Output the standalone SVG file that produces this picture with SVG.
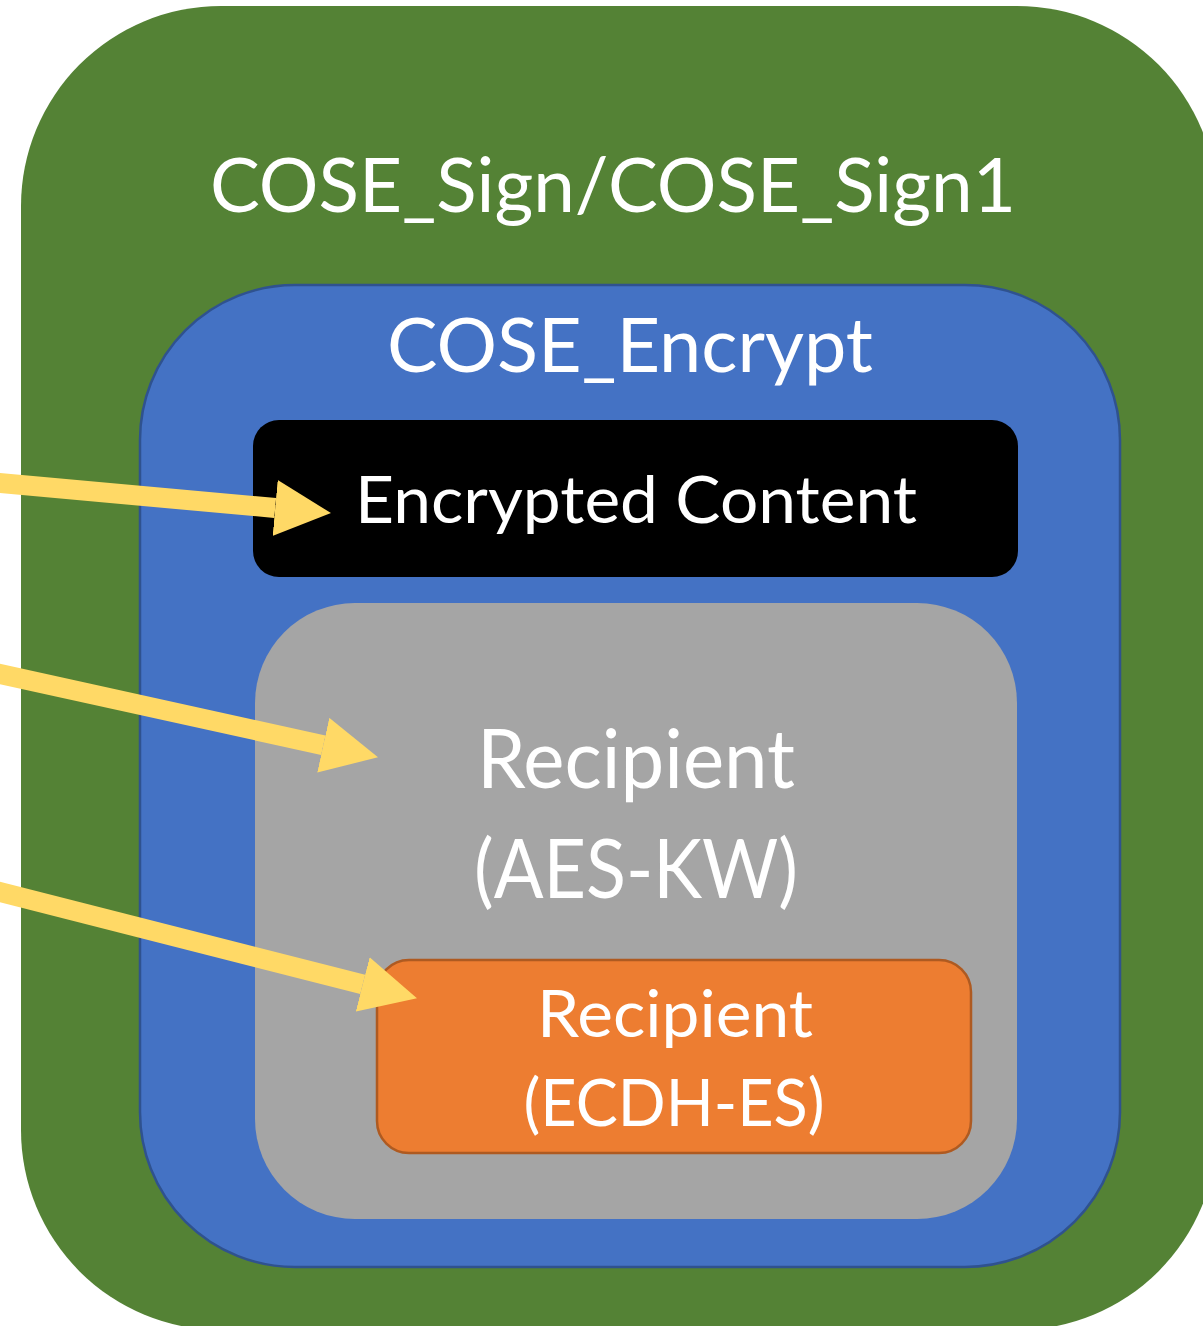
<svg xmlns="http://www.w3.org/2000/svg" width="1203" height="1326" viewBox="0 0 1203 1326">
  <style>
    .lbl { font-family: Lato, "Open Sans", "Liberation Sans", sans-serif; fill: #FFFFFF; text-anchor: middle; }
    .big { font-size: 75px; }
    .mid { font-size: 81px; }
    .sm { font-size: 65px; }
    .arrow { stroke: #FFD966; stroke-width: 20; fill: none; }
  </style>
  <defs>
    <marker id="head" markerUnits="userSpaceOnUse" markerWidth="56" markerHeight="56" refX="0" refY="27.5" orient="auto" viewBox="0 0 55 55">
      <path d="M0,0 L55,27.5 L0,55 Z" fill="#FFD966"/>
    </marker>
  </defs>

  <!-- outer signature wrapper -->
  <g id="cose-sign">
    <rect x="21" y="6" width="1196" height="1324" rx="200" ry="200" fill="#548235"/>
    <text class="lbl big" x="613" y="212" textLength="806" lengthAdjust="spacingAndGlyphs">COSE_Sign/COSE_Sign1</text>
  </g>

  <!-- encryption structure -->
  <g id="cose-encrypt">
    <rect x="140" y="285" width="980" height="982" rx="155" ry="155" fill="#4472C4" stroke="#2F528F" stroke-width="2.5"/>
    <text class="lbl big" x="630" y="372" textLength="486" lengthAdjust="spacingAndGlyphs">COSE_Encrypt</text>
  </g>

  <!-- ciphertext -->
  <g id="encrypted-content">
    <rect x="253" y="420" width="765" height="157" rx="26" ry="26" fill="#000000"/>
    <text class="lbl sm" x="636" y="523" textLength="562" lengthAdjust="spacingAndGlyphs">Encrypted Content</text>
  </g>

  <!-- key-wrap recipient -->
  <g id="recipient-aes-kw">
    <rect x="255" y="603" width="762" height="616" rx="100" ry="100" fill="#A5A5A5"/>
    <text class="lbl mid" x="636" y="788" textLength="318" lengthAdjust="spacingAndGlyphs">Recipient</text>
    <text class="lbl mid" x="636" y="898" textLength="324" lengthAdjust="spacingAndGlyphs">(AES-KW)</text>
  </g>

  <!-- key-agreement recipient -->
  <g id="recipient-ecdh-es">
    <rect x="377" y="960" width="594" height="193" rx="32" ry="32" fill="#ED7D31" stroke="#AE5A21" stroke-width="2.5"/>
    <text class="lbl sm" x="675" y="1037" textLength="276" lengthAdjust="spacingAndGlyphs">Recipient</text>
    <text class="lbl sm" x="674" y="1126" textLength="301" lengthAdjust="spacingAndGlyphs">(ECDH-ES)</text>
  </g>

  <!-- incoming pointers -->
  <g id="connectors">
    <line class="arrow" x1="-20" y1="481.2" x2="275.2" y2="508" marker-end="url(#head)"/>
    <line class="arrow" x1="-20" y1="669.6" x2="323.3" y2="745.2" marker-end="url(#head)"/>
    <line class="arrow" x1="-20" y1="886.9" x2="362.7" y2="984.4" marker-end="url(#head)"/>
  </g>
</svg>
